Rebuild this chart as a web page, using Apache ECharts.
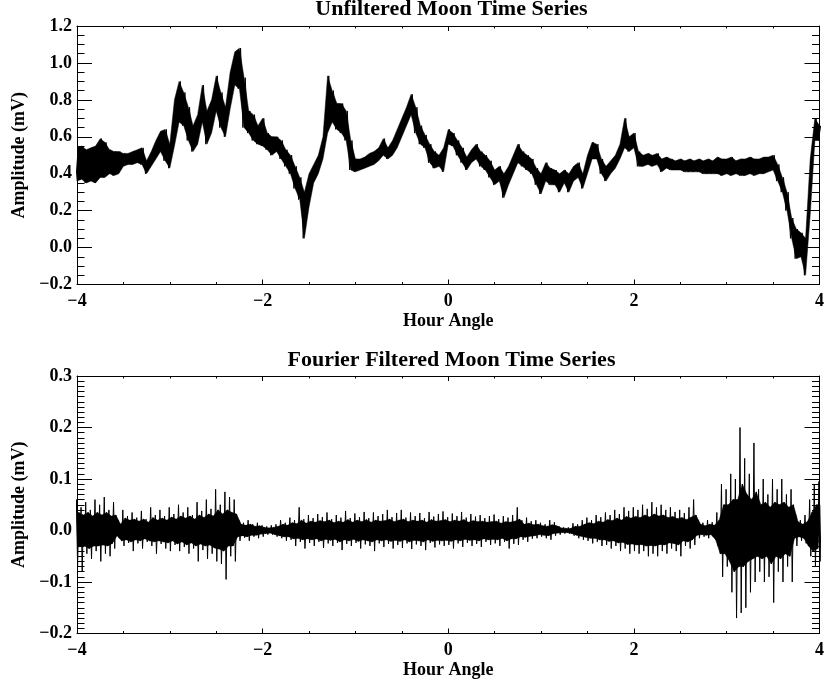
<!DOCTYPE html>
<html><head><meta charset="utf-8">
<script src="https://cdn.jsdelivr.net/npm/echarts@6/dist/echarts.min.js"></script>
<style>html,body{margin:0;padding:0;background:#fff}#c{width:827px;height:685px}</style>
</head><body><div id="c"></div>
<script>
// Hour-angle bins: start and width (each bin holds the min / max of the trace in it)
const hourAngleStart = -4;
const hourAngleStep = 0.05;

// Unfiltered Moon time series (mV): lower and upper envelope per bin
const unfilteredLow = [
  0.36,0.37,0.35,0.36,0.35,0.38,0.38,0.40,0.39,0.40,
  0.44,0.45,0.45,0.46,0.45,0.40,0.44,0.48,0.52,0.47,
  0.43,0.55,0.68,0.66,0.58,0.52,0.56,0.68,0.56,0.62,
  0.74,0.65,0.60,0.75,0.88,0.86,0.65,0.62,0.58,0.56,
  0.55,0.53,0.50,0.52,0.48,0.44,0.40,0.32,0.26,0.05,
  0.22,0.35,0.40,0.48,0.62,0.68,0.64,0.62,0.58,0.42,
  0.41,0.42,0.43,0.44,0.45,0.47,0.50,0.48,0.50,0.54,
  0.60,0.66,0.72,0.62,0.56,0.54,0.46,0.43,0.44,0.41,
  0.56,0.55,0.50,0.46,0.42,0.46,0.48,0.44,0.42,0.38,
  0.34,0.36,0.27,0.34,0.40,0.46,0.44,0.42,0.40,0.34,
  0.29,0.36,0.34,0.34,0.30,0.35,0.30,0.36,0.38,0.32,
  0.40,0.48,0.48,0.40,0.36,0.40,0.43,0.48,0.54,0.52,
  0.54,0.44,0.44,0.45,0.44,0.45,0.41,0.43,0.42,0.42,
  0.42,0.41,0.41,0.41,0.41,0.40,0.40,0.40,0.40,0.39,
  0.40,0.39,0.40,0.39,0.39,0.40,0.39,0.40,0.40,0.41,
  0.42,0.36,0.30,0.20,0.05,-0.06,-0.05,-0.15,0.18,0.58,0.58
];
const unfilteredHigh = [
  0.54,0.55,0.53,0.54,0.55,0.59,0.57,0.53,0.52,0.52,
  0.51,0.51,0.52,0.53,0.54,0.47,0.52,0.58,0.63,0.64,
  0.56,0.80,0.90,0.84,0.76,0.66,0.72,0.88,0.74,0.80,
  0.93,0.84,0.76,0.95,1.06,1.08,0.92,0.74,0.72,0.66,
  0.70,0.62,0.60,0.60,0.58,0.53,0.50,0.44,0.38,0.30,
  0.40,0.45,0.50,0.60,0.93,0.85,0.78,0.78,0.74,0.58,
  0.48,0.48,0.49,0.51,0.52,0.54,0.59,0.54,0.58,0.64,
  0.70,0.76,0.83,0.76,0.66,0.61,0.56,0.52,0.50,0.54,
  0.64,0.62,0.58,0.54,0.49,0.53,0.56,0.52,0.50,0.47,
  0.42,0.44,0.40,0.44,0.50,0.56,0.52,0.50,0.48,0.43,
  0.40,0.46,0.43,0.42,0.40,0.42,0.40,0.44,0.46,0.40,
  0.50,0.57,0.56,0.48,0.44,0.47,0.50,0.56,0.70,0.60,
  0.62,0.52,0.50,0.51,0.50,0.51,0.48,0.49,0.48,0.47,
  0.48,0.47,0.48,0.47,0.48,0.47,0.48,0.47,0.49,0.48,
  0.48,0.49,0.47,0.48,0.48,0.49,0.48,0.48,0.49,0.49,
  0.50,0.45,0.38,0.30,0.16,0.10,0.08,0.05,0.48,0.70,0.66
];

// Fourier filtered Moon time series (mV): extreme lower and upper values per bin
const filteredLow = [
  -0.07,-0.08,-0.045,-0.055,-0.04,-0.06,-0.045,-0.05,-0.035,-0.015,
  -0.03,-0.024,-0.04,-0.025,-0.035,-0.022,-0.03,-0.045,-0.026,-0.035,
  -0.04,-0.028,-0.04,-0.032,-0.045,-0.035,-0.06,-0.038,-0.055,-0.045,
  -0.06,-0.065,-0.095,-0.05,-0.06,-0.02,-0.014,-0.02,-0.012,-0.015,
  -0.012,-0.008,-0.008,-0.012,-0.015,-0.02,-0.018,-0.03,-0.022,-0.035,
  -0.024,-0.03,-0.022,-0.034,-0.025,-0.03,-0.024,-0.038,-0.026,-0.03,
  -0.024,-0.035,-0.027,-0.03,-0.04,-0.025,-0.032,-0.026,-0.035,-0.028,
  -0.034,-0.025,-0.036,-0.027,-0.03,-0.038,-0.024,-0.033,-0.027,-0.03,
  -0.028,-0.035,-0.025,-0.032,-0.024,-0.03,-0.026,-0.032,-0.022,-0.028,
  -0.025,-0.03,-0.022,-0.035,-0.026,-0.028,-0.018,-0.022,-0.016,-0.015,
  -0.012,-0.015,-0.018,-0.01,-0.008,-0.006,-0.006,-0.01,-0.015,-0.018,
  -0.02,-0.025,-0.022,-0.03,-0.028,-0.035,-0.03,-0.04,-0.035,-0.045,
  -0.04,-0.045,-0.04,-0.05,-0.045,-0.05,-0.04,-0.045,-0.035,-0.04,
  -0.05,-0.03,-0.035,-0.028,-0.015,-0.012,-0.015,-0.012,-0.03,-0.09,
  -0.07,-0.12,-0.17,-0.16,-0.15,-0.12,-0.10,-0.08,-0.10,-0.09,
  -0.14,-0.08,-0.10,-0.07,-0.10,-0.03,-0.02,-0.025,-0.05,-0.07,-0.06
];
const filteredHigh = [
  0.06,0.045,0.055,0.04,0.06,0.05,0.065,0.04,0.055,0.02,
  0.04,0.028,0.035,0.025,0.038,0.022,0.045,0.03,0.04,0.028,
  0.045,0.032,0.05,0.035,0.045,0.03,0.055,0.038,0.06,0.042,
  0.08,0.05,0.075,0.065,0.06,0.02,0.015,0.02,0.012,0.015,
  0.01,0.008,0.01,0.012,0.02,0.015,0.025,0.02,0.045,0.022,
  0.03,0.024,0.032,0.026,0.035,0.022,0.03,0.025,0.038,0.024,
  0.033,0.026,0.036,0.024,0.035,0.028,0.032,0.04,0.026,0.034,
  0.04,0.025,0.035,0.028,0.034,0.024,0.036,0.027,0.032,0.037,
  0.026,0.033,0.028,0.036,0.025,0.032,0.027,0.03,0.024,0.028,
  0.031,0.022,0.028,0.025,0.03,0.045,0.02,0.025,0.018,0.02,
  0.015,0.012,0.02,0.016,0.008,0.006,0.006,0.014,0.012,0.02,
  0.025,0.02,0.03,0.026,0.035,0.03,0.04,0.032,0.045,0.038,
  0.045,0.04,0.05,0.042,0.055,0.045,0.05,0.04,0.045,0.036,
  0.04,0.034,0.045,0.06,0.02,0.015,0.02,0.016,0.035,0.09,
  0.08,0.11,0.10,0.20,0.14,0.11,0.17,0.08,0.10,0.07,
  0.10,0.08,0.10,0.07,0.08,0.03,0.02,0.03,0.06,0.09,0.095
];
// Fourier filtered series: typical swing per bin (the dense, solid part of the trace)
const filteredTypicalLow = [
  -0.035,-0.03,-0.03,-0.035,-0.03,-0.03,-0.028,-0.03,-0.025,-0.01,
  -0.02,-0.018,-0.022,-0.018,-0.02,-0.016,-0.02,-0.022,-0.02,-0.022,
  -0.024,-0.02,-0.026,-0.022,-0.028,-0.024,-0.03,-0.026,-0.03,-0.028,
  -0.034,-0.036,-0.04,-0.03,-0.03,-0.012,-0.01,-0.012,-0.009,-0.009,
  -0.007,-0.006,-0.005,-0.008,-0.01,-0.012,-0.012,-0.016,-0.015,-0.018,
  -0.016,-0.018,-0.016,-0.02,-0.017,-0.019,-0.017,-0.022,-0.018,-0.02,
  -0.017,-0.021,-0.018,-0.02,-0.022,-0.018,-0.02,-0.018,-0.021,-0.019,
  -0.021,-0.018,-0.022,-0.019,-0.02,-0.022,-0.018,-0.021,-0.019,-0.02,
  -0.019,-0.021,-0.018,-0.02,-0.017,-0.019,-0.018,-0.02,-0.016,-0.018,
  -0.017,-0.018,-0.015,-0.02,-0.016,-0.016,-0.012,-0.013,-0.011,-0.01,
  -0.008,-0.009,-0.01,-0.006,-0.005,-0.004,-0.004,-0.006,-0.009,-0.011,
  -0.013,-0.015,-0.015,-0.018,-0.018,-0.021,-0.02,-0.024,-0.023,-0.027,
  -0.026,-0.028,-0.027,-0.03,-0.029,-0.03,-0.027,-0.028,-0.024,-0.025,
  -0.028,-0.02,-0.022,-0.018,-0.009,-0.008,-0.009,-0.008,-0.018,-0.045,
  -0.045,-0.06,-0.08,-0.07,-0.07,-0.06,-0.055,-0.05,-0.055,-0.05,
  -0.065,-0.05,-0.055,-0.045,-0.05,-0.015,-0.012,-0.015,-0.03,-0.04,-0.035
];
const filteredTypicalHigh = [
  0.035,0.03,0.035,0.028,0.035,0.03,0.035,0.028,0.03,0.012,
  0.024,0.02,0.022,0.018,0.022,0.016,0.025,0.02,0.024,0.02,
  0.026,0.022,0.028,0.024,0.028,0.022,0.03,0.025,0.032,0.028,
  0.04,0.032,0.04,0.035,0.032,0.012,0.01,0.012,0.008,0.009,
  0.006,0.005,0.006,0.008,0.012,0.01,0.015,0.013,0.02,0.014,
  0.018,0.016,0.019,0.017,0.02,0.015,0.018,0.016,0.021,0.016,
  0.02,0.017,0.021,0.016,0.02,0.018,0.019,0.022,0.017,0.02,
  0.022,0.017,0.02,0.018,0.02,0.016,0.021,0.018,0.019,0.021,
  0.017,0.02,0.018,0.021,0.016,0.019,0.017,0.018,0.016,0.017,
  0.018,0.014,0.017,0.016,0.018,0.022,0.012,0.014,0.011,0.012,
  0.009,0.008,0.011,0.009,0.005,0.004,0.004,0.008,0.008,0.012,
  0.015,0.013,0.018,0.016,0.021,0.019,0.024,0.02,0.027,0.024,
  0.027,0.025,0.03,0.026,0.032,0.028,0.03,0.025,0.027,0.023,
  0.025,0.021,0.026,0.03,0.012,0.009,0.012,0.01,0.02,0.05,
  0.05,0.06,0.06,0.09,0.07,0.06,0.075,0.05,0.055,0.045,
  0.055,0.05,0.055,0.045,0.05,0.017,0.012,0.017,0.035,0.05,0.05
];

// Axis settings
const xRange = [-4, 4], xInterval = 2;
const yRangeTop = [-0.2, 1.2], yIntervalTop = 0.2;
const yRangeBottom = [-0.2, 0.3], yIntervalBottom = 0.1;
const titles = ['Unfiltered Moon Time Series', 'Fourier Filtered Moon Time Series'];
const xName = 'Hour Angle';
const yName = 'Amplitude (mV)';

const FONT = 'Liberation Serif';
const MINUS = '\u2212';

function binX(i) { return hourAngleStart + i * hourAngleStep; }

// zig-zag trace through each bin's minimum and maximum
function bandPoints(lo, hi) {
  const pts = [];
  for (let i = 0; i < lo.length; i++) {
    pts.push([binX(i) - hourAngleStep / 4, lo[i]]);
    pts.push([binX(i) + hourAngleStep / 4, hi[i]]);
  }
  return pts;
}
// zig-zag through each bin's typical swings and its extremes
function noisePoints(lo, hi, tLo, tHi) {
  const pts = [];
  const q = hourAngleStep / 8;
  for (let i = 0; i < lo.length; i++) {
    pts.push([binX(i) - 3 * q, tLo[i]]);
    pts.push([binX(i) - q, hi[i]]);
    pts.push([binX(i) + q, lo[i]]);
    pts.push([binX(i) + 3 * q, tHi[i]]);
  }
  return pts;
}

// filled polygon between two envelopes, placed with the axes' own scales
function bandSeries(xi, yi, lo, hi, jitter) {
  return {
    type: 'custom', xAxisIndex: xi, yAxisIndex: yi, clip: true, silent: true,
    data: [[hourAngleStart, lo[0]]],
    renderItem: function (params, api) {
      const pts = [];
      const off = jitter ? hourAngleStep * 3 / 8 : 0;
      for (let i = 0; i < hi.length; i++) pts.push(api.coord([binX(i) + off, hi[i]]));
      for (let i = lo.length - 1; i >= 0; i--) pts.push(api.coord([binX(i) - off, lo[i]]));
      return { type: 'polygon', shape: { points: pts }, style: { fill: '#000', stroke: '#000', lineWidth: 0.5 } };
    }
  };
}

const lineStyle = { color: '#000', width: 1 };
const textStyle = { fontFamily: FONT, fontWeight: 'bold', fontSize: 18, color: '#000' };

function xAxes(gridIndex) {
  const base = {
    type: 'value', gridIndex, min: xRange[0], max: xRange[1], interval: xInterval,
    splitLine: { show: false },
    axisLine: { show: true, onZero: false, lineStyle },
    axisTick: { show: true, inside: true, length: 5, lineStyle },
    minorTick: { show: true, splitNumber: 4, length: 2.5, lineStyle },
    minorSplitLine: { show: false }
  };
  return [
    Object.assign({}, base, {
      position: 'bottom', name: xName, nameLocation: 'middle', nameGap: 28,
      nameTextStyle: textStyle,
      axisLabel: Object.assign({ show: true, margin: 8,
        formatter: v => String(v).replace('-', MINUS) }, textStyle)
    }),
    Object.assign({}, base, { position: 'top', axisLabel: { show: false } })
  ];
}

function yAxes(gridIndex, range, interval, minorSplit) {
  const base = {
    type: 'value', gridIndex, min: range[0], max: range[1], interval,
    splitLine: { show: false },
    axisLine: { show: true, onZero: false, lineStyle },
    axisTick: { show: true, inside: true, length: 15, lineStyle },
    minorTick: { show: true, splitNumber: minorSplit, length: 7.5, lineStyle },
    minorSplitLine: { show: false }
  };
  return [
    Object.assign({}, base, {
      position: 'left', name: yName, nameLocation: 'middle', nameGap: 47, nameRotate: 90,
      nameTextStyle: textStyle,
      axisLabel: Object.assign({ show: true, margin: 5,
        formatter: v => (Math.abs(v) < 1e-9 ? '0.0' : v.toFixed(1)).replace('-', MINUS) }, textStyle)
    }),
    Object.assign({}, base, { position: 'right', axisLabel: { show: false } })
  ];
}

const chart = echarts.init(document.getElementById('c'), null, { renderer: 'canvas' });
chart.setOption({
  animation: false,
  backgroundColor: '#fff',
  grid: [
    { left: 77, right: 1, top: 26, height: 258.5 },
    { left: 77, right: 1, top: 376, height: 257.5 }
  ],
  xAxis: [].concat(xAxes(0), xAxes(1)),
  yAxis: [].concat(
    yAxes(0, yRangeTop, yIntervalTop, 4),
    yAxes(1, yRangeBottom, yIntervalBottom, 10)
  ),
  graphic: [
    { type: 'text', x: 451.5, y: 9, style: { text: titles[0], font: 'bold 22px "Liberation Serif"',
      fill: '#000', align: 'center', verticalAlign: 'middle', textAlign: 'center', textVerticalAlign: 'middle' } },
    { type: 'text', x: 451.5, y: 360.5, style: { text: titles[1], font: 'bold 22px "Liberation Serif"',
      fill: '#000', align: 'center', verticalAlign: 'middle', textAlign: 'center', textVerticalAlign: 'middle' } }
  ],
  series: [
    bandSeries(0, 0, unfilteredLow, unfilteredHigh, false),
    { type: 'line', xAxisIndex: 0, yAxisIndex: 0, data: bandPoints(unfilteredLow, unfilteredHigh),
      showSymbol: false, symbol: 'none', clip: true, lineStyle: { color: '#000', width: 1 }, silent: true },
    bandSeries(2, 2, filteredTypicalLow, filteredTypicalHigh, true),
    { type: 'line', xAxisIndex: 2, yAxisIndex: 2,
      data: noisePoints(filteredLow, filteredHigh, filteredTypicalLow, filteredTypicalHigh),
      showSymbol: false, symbol: 'none', clip: true, lineStyle: { color: '#000', width: 1 }, silent: true }
  ]
});
</script>
</body></html>
